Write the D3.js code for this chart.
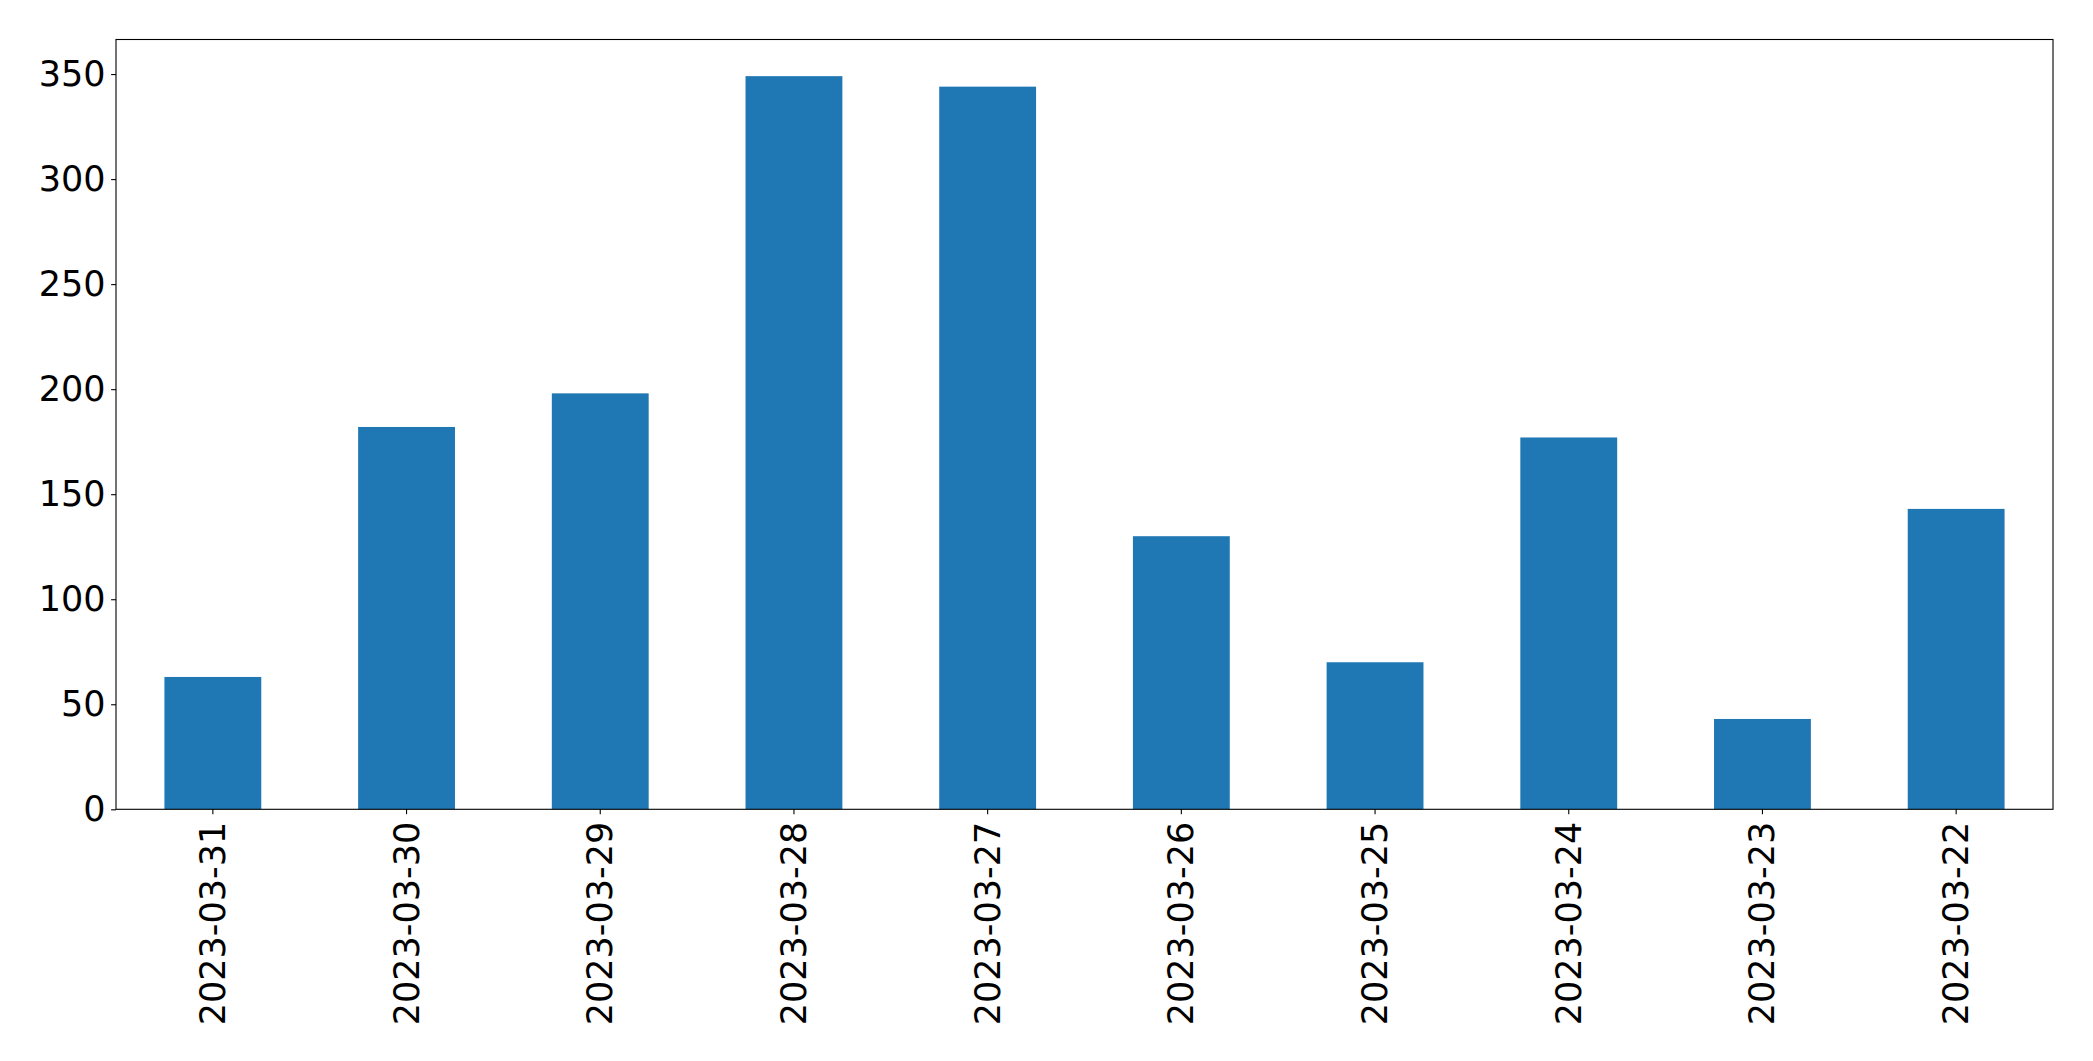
<!DOCTYPE html>
<html>
<head>
<meta charset="utf-8">
<script src="https://cdn.jsdelivr.net/npm/d3@7"></script>
<style>
html, body { margin: 0; padding: 0; background: #fff; }
svg { display: block; }
</style>
</head>
<body>
<svg id="chart" width="2093" height="1061"></svg>
<script>
const categories = ["2023-03-31","2023-03-30","2023-03-29","2023-03-28","2023-03-27","2023-03-26","2023-03-25","2023-03-24","2023-03-23","2023-03-22"];
const values = [63, 182, 198, 349, 344, 130, 70, 177, 43, 143];
const yTicks = [0, 50, 100, 150, 200, 250, 300, 350];

const W = 2093, H = 1061;
const margin = {left: 116, right: 40, top: 39.5, bottom: 251.7};
const pw = W - margin.left - margin.right;
const ph = H - margin.top - margin.bottom;
const fontSize = 35;
const font = "'DejaVu Sans', sans-serif";

const svg = d3.select("#chart");
const g = svg.append("g").attr("transform", `translate(${margin.left},${margin.top})`);

const x = d3.scaleBand().domain(categories).range([0, pw]).paddingInner(0.5).paddingOuter(0.25);
const y = d3.scaleLinear().domain([0, d3.max(values) * 1.05]).range([ph, 0]);

g.selectAll("rect.bar").data(values).enter().append("rect")
  .attr("class", "bar")
  .attr("x", (d, i) => x(categories[i]))
  .attr("width", x.bandwidth())
  .attr("y", d => y(d))
  .attr("height", d => ph - y(d))
  .attr("fill", "#1f77b4");

const yAxis = g.append("g").call(d3.axisLeft(y).tickValues(yTicks).tickSize(4.9).tickPadding(5.5).tickFormat(d3.format("d")));
yAxis.select(".domain").remove();
yAxis.selectAll("line").attr("stroke", "#000").attr("stroke-width", 1.1);
yAxis.selectAll("text").attr("font-family", font).attr("font-size", fontSize).attr("fill", "#000");

const xAxis = g.append("g").attr("transform", `translate(0,${ph})`).call(d3.axisBottom(x).tickSize(4.9).tickPadding(0));
xAxis.select(".domain").remove();
xAxis.selectAll("line").attr("stroke", "#000").attr("stroke-width", 1.1);
xAxis.selectAll("text")
  .attr("font-family", font).attr("font-size", fontSize).attr("fill", "#000")
  .attr("text-anchor", "end")
  .attr("dy", null)
  .attr("y", 0)
  .attr("transform", "translate(0,12.5) rotate(-90)")
  .attr("dominant-baseline", "central");

g.append("rect").attr("x", 0).attr("y", 0).attr("width", pw).attr("height", ph)
  .attr("fill", "none").attr("stroke", "#000").attr("stroke-width", 1.1);
</script>
</body>
</html>
